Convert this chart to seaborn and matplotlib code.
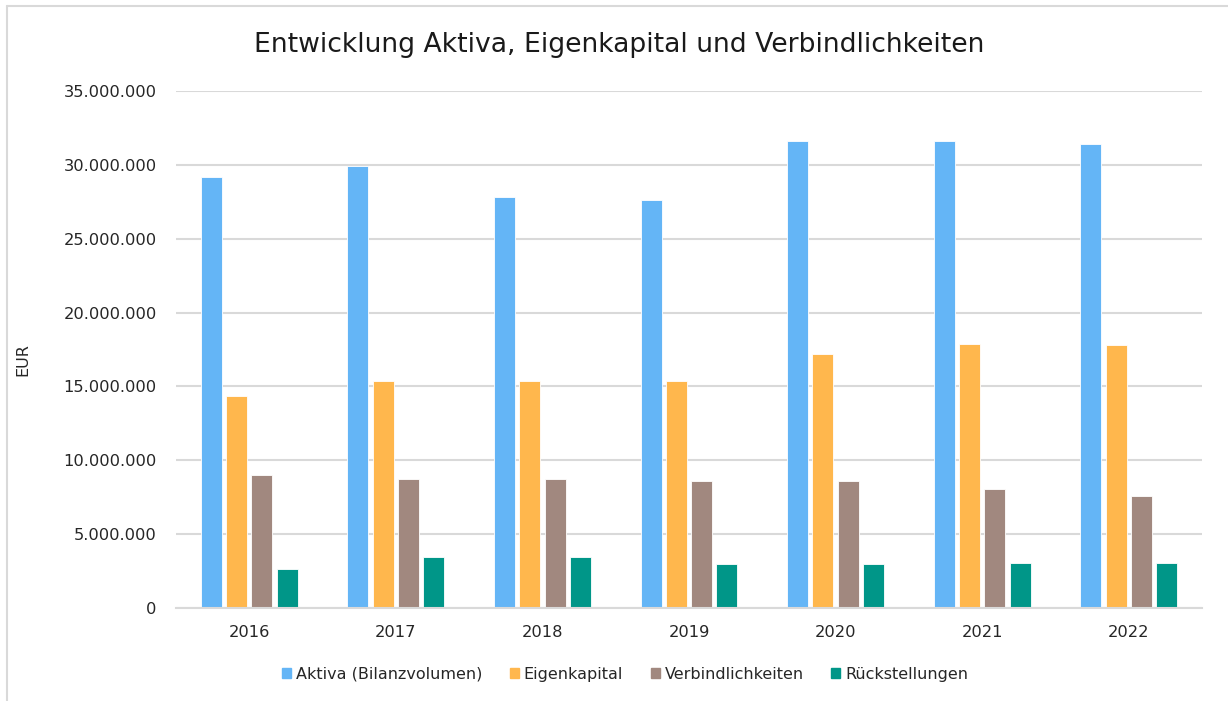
import numpy as np
import pandas as pd
import matplotlib
matplotlib.use("Agg")
import matplotlib.pyplot as plt
from matplotlib.ticker import FuncFormatter, MultipleLocator
from matplotlib.lines import Line2D
import seaborn as sns

years = ["2016", "2017", "2018", "2019", "2020", "2021", "2022"]
aktiva = [29180000, 29920000, 27850000, 27650000, 31620000, 31620000, 31380000]
eigenkapital = [14380000, 15400000, 15400000, 15400000, 17200000, 17880000, 17820000]
verbindlichkeiten = [9030000, 8750000, 8750000, 8620000, 8590000, 8050000, 7590000]
rueckstellungen = [2640000, 3450000, 3450000, 3000000, 2980000, 3020000, 3020000]

series = ["Aktiva (Bilanzvolumen)", "Eigenkapital", "Verbindlichkeiten", "Rückstellungen"]
colors = ["#64B5F6", "#FFB74D", "#A1887F", "#009688"]

df = pd.DataFrame({"Jahr": years, series[0]: aktiva, series[1]: eigenkapital,
                   series[2]: verbindlichkeiten, series[3]: rueckstellungen})
long = df.melt(id_vars="Jahr", var_name="Posten", value_name="EUR")

sns.set_theme(style="white")
plt.rcParams["font.family"] = ["DejaVu Sans"]

fig = plt.figure(figsize=(12.28, 7.01), dpi=100)
ax = fig.add_axes([176 / 1228, 1 - 608 / 701, 1026 / 1228, 517 / 701])

sns.barplot(data=long, x="Jahr", y="EUR", hue="Posten", hue_order=series,
            palette=colors, saturation=1, width=0.69, gap=0.17, ax=ax, legend=False,
            edgecolor="white", linewidth=0.6)

ax.set_ylim(0, 35000000)
ax.yaxis.set_major_locator(MultipleLocator(5000000))
ax.yaxis.set_major_formatter(FuncFormatter(lambda v, p: f"{v:,.0f}".replace(",", ".")))
ax.grid(axis="y", color="#d9d9d9", linewidth=1.5)
ax.set_axisbelow(True)
for s in ["top", "right", "left"]:
    ax.spines[s].set_visible(False)
ax.spines["bottom"].set_color("#d9d9d9")
ax.spines["bottom"].set_linewidth(1.5)
ax.tick_params(axis="both", length=0, labelsize=11.7, colors="#262626")
ax.tick_params(axis="y", pad=14)
ax.tick_params(axis="x", pad=12)
ax.set_xlabel("")
ax.set_ylabel("EUR", fontsize=11.5, color="#262626")
ax.yaxis.set_label_coords(-146 / 1026, 0.48)

fig.text(0.504, 0.936, "Entwicklung Aktiva, Eigenkapital und Verbindlichkeiten",
         ha="center", va="center", fontsize=19.2, color="#1a1a1a")

handles = [plt.Rectangle((0, 0), 1, 1, color=c) for c in colors]
fig.legend(handles, series, loc="center", bbox_to_anchor=(0.509, 0.0385), ncol=4,
           frameon=False, fontsize=11.5, handlelength=0.55, handleheight=0.55,
           handletextpad=0.3, columnspacing=1.75, labelcolor="#262626")

# chart area border (left and top only)
fig.add_artist(Line2D([7 / 1228, 7 / 1228], [0, 1 - 6 / 701], color="#d9d9d9", lw=1.5,
                      transform=fig.transFigure))
fig.add_artist(Line2D([7 / 1228, 1], [1 - 6 / 701, 1 - 6 / 701], color="#d9d9d9", lw=1.5,
                      transform=fig.transFigure))

fig.savefig("out.png", dpi=100, facecolor="white")
